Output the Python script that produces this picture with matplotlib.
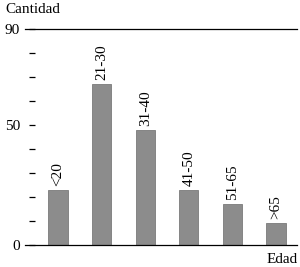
import numpy as np
import matplotlib
matplotlib.use('Agg')
import matplotlib.pyplot as plt

plt.rcParams['font.family'] = ['Liberation Serif', 'DejaVu Serif']

# age groups and counts
grupos = ['<20', '21-30', '31-40', '41-50', '51-65', '>65']
cantidad = [23, 67, 48, 23, 17, 9]
yticks = [0, 10, 20, 30, 40, 50, 60, 70, 80, 90]
ytick_labels = ['0', '', '', '', '', '50', '', '', '', '90']

DPI = 100
fig = plt.figure(figsize=(3.0, 2.67), dpi=DPI)
ax = fig.add_axes([25/300, 1 - 245/267, 272/300, (245 - 29)/267])

x = np.arange(len(grupos))
bars = ax.bar(x, cantidad, width=0.44, color='#8c8c8c',
              edgecolor='#7a7a7a', linewidth=0.6)

for xi, v, lab in zip(x, cantidad, grupos):
    ax.annotate(lab, (xi, v), xytext=(0, 3), textcoords='offset points',
                rotation=90, ha='center', va='bottom', fontsize=11)

ax.set_xlim(-0.757, 5.48)
ax.set_ylim(0, 90)

for s in ['left', 'right']:
    ax.spines[s].set_visible(False)
for s in ['top', 'bottom']:
    ax.spines[s].set_linewidth(0.9)
    ax.spines[s].set_color('black')

# ticks sit a bit inside the line start
ax.spines['left'].set_position(('outward', -4 * 72 / DPI))
ax.set_yticks(yticks)
ax.set_yticklabels(ytick_labels)
ax.tick_params(axis='y', direction='in', length=6 * 72 / DPI, width=0.9,
               pad=6.5, labelsize=11)
ax.set_xticks([])

fig.text(5/300, 1 - 3/267, 'Cantidad', ha='left', va='top', fontsize=11)
fig.text(298/300, 1 - 263/267, 'Edad', ha='right', va='baseline', fontsize=11)

plt.savefig('out.png', dpi=DPI)
plt.close()
